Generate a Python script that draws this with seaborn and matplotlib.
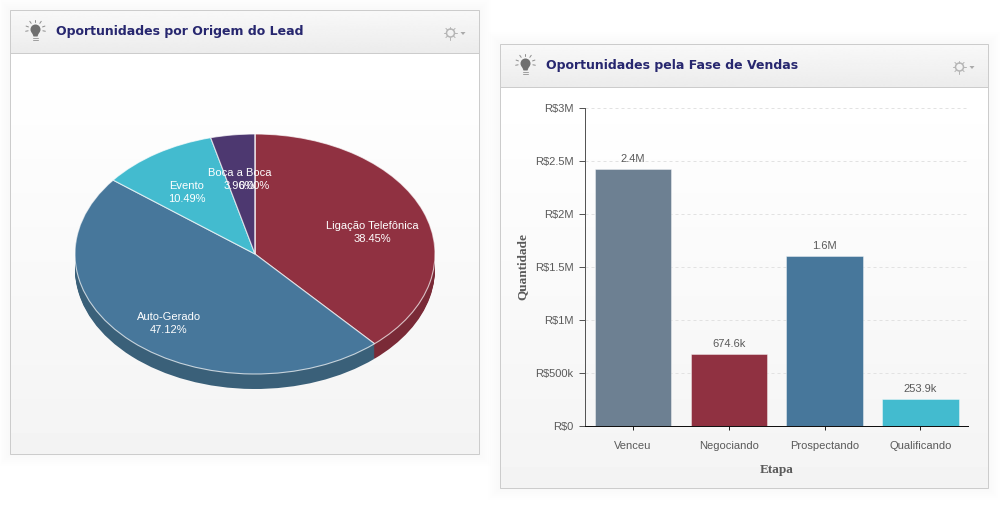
import numpy as np
import pandas as pd
import matplotlib
matplotlib.use("Agg")
import matplotlib.pyplot as plt
from matplotlib.patches import Rectangle, Circle, Polygon
import seaborn as sns

W, H = 1002, 505

# pie data
origens = ["Ligação Telefônica", "Auto-Gerado", "Evento", "Boca a Boca", ""]
origem_pct = [38.45, 47.12, 10.49, 3.96, 0.00]
origem_cores = ["#903141", "#47779b", "#43bbcf", "#4d3870", "#903141"]
origem_lados = ["#7a2a37", "#3a6079", "#35929f", "#3d2c59", "#7a2a37"]

# bar data
fases = ["Venceu", "Negociando", "Prospectando", "Qualificando"]
fase_valores = [2420000, 674600, 1600000, 253900]
fase_rotulos = ["2.4M", "674.6k", "1.6M", "253.9k"]
fase_cores = ["#6d8092", "#903141", "#47779b", "#43bbcf"]
y_ticks = [0, 500000, 1000000, 1500000, 2000000, 2500000, 3000000]
y_rotulos = ["R$0", "R$500k", "R$1M", "R$1.5M", "R$2M", "R$2.5M", "R$3M"]

sns.set_theme(style="white")
plt.rcParams["font.family"] = ["Liberation Sans", "DejaVu Sans"]
TXT = "#5a5a5a"
PX = 0.72


def px_axes(fig, left, top, right, bottom, **kw):
	return fig.add_axes([left / W, 1 - bottom / H, (right - left) / W, (bottom - top) / H], **kw)


def gradient(ax, x0, y0, x1, y1, top, bottom):
	g = np.linspace(top, bottom, 64).reshape(-1, 1)
	ax.imshow(g, extent=(x0, x1, y1, y0), cmap="gray", vmin=0, vmax=1, aspect="auto", zorder=2, interpolation="bilinear")


def lamp(ax, cx, cy):
	ax.add_patch(Circle((cx, cy - 1), 5, color="#707070", lw=0, zorder=5))
	ax.add_patch(Polygon([(cx - 3.5, cy + 2), (cx + 3.5, cy + 2), (cx + 2, cy + 6), (cx - 2, cy + 6)], color="#707070", lw=0, zorder=5))
	for dy in (7, 9):
		ax.plot([cx - 2.5, cx + 2.5], [cy + dy, cy + dy], color="#a0a0a0", lw=PX, zorder=5)
	for ang in (-70, -35, 0, 35, 70, -100, 100):
		a = np.radians(ang)
		ax.plot([cx + 7.5 * np.sin(a), cx + 10 * np.sin(a)], [cy - 1 - 7.5 * np.cos(a), cy - 1 - 10 * np.cos(a)], color="#909090", lw=PX, zorder=5)


def gear(ax, cx, cy):
	ax.add_patch(Circle((cx, cy), 4, fc="none", ec="#b5b5b5", lw=1.1, zorder=5))
	for ang in range(0, 360, 45):
		a = np.radians(ang)
		ax.plot([cx + 4 * np.sin(a), cx + 6.5 * np.sin(a)], [cy + 4 * np.cos(a), cy + 6.5 * np.cos(a)], color="#b5b5b5", lw=PX, zorder=5)
	ax.add_patch(Polygon([(cx + 10, cy - 1), (cx + 15, cy - 1), (cx + 12.5, cy + 2)], color="#aaaaaa", lw=0, zorder=5))


def panel(ax, x0, y0, x1, y1, head, titulo):
	# soft shadow
	for s in range(2, 13, 2):
		ax.add_patch(Rectangle((x0 - s, y0 - s), x1 - x0 + 2 * s, y1 - y0 + 2 * s, fc="black", ec="none", alpha=0.004, zorder=1))
	gradient(ax, x0, head, x1, y1, 1.0, 0.955)
	gradient(ax, x0, y0, x1, head, 0.975, 0.925)
	ax.add_patch(Rectangle((x0, y0), x1 - x0, y1 - y0, fc="none", ec="#cccccc", lw=PX, zorder=3))
	ax.plot([x0, x1], [head, head], color="#cccccc", lw=PX, zorder=3)
	lamp(ax, x0 + 25, y0 + 20.5)
	gear(ax, x1 - 29, y0 + 23)
	ax.text(x0 + 46, y0 + 22, titulo, color="#27276f", fontsize=9, fontweight="bold", family="DejaVu Sans", va="center", ha="left", zorder=5)


fig = plt.figure(figsize=(W / 100, H / 100), dpi=100, facecolor="white")

fundo = fig.add_axes([0, 0, 1, 1], zorder=0)
panel(fundo, 10.5, 10, 479.5, 454, 53, "Oportunidades por Origem do Lead")
panel(fundo, 500.5, 44, 988.5, 488, 87, "Oportunidades pela Fase de Vendas")
fundo.set_xlim(0, W)
fundo.set_ylim(H, 0)
fundo.axis("off")

# pie, ellipse centred at (255, 254), radii 180 x 120, 15 px deep
RX, RY, DEPTH = 180, 120, 15
pie_ax = px_axes(fig, 55, 114, 455, 414, zorder=1)
for d in range(DEPTH, 0, -1):
	pie_ax.pie(origem_pct, colors=origem_lados, startangle=90, counterclock=False, center=(0, -d / RY), radius=1, wedgeprops={"linewidth": 0})
pie_ax.pie(origem_pct, colors=origem_cores, startangle=90, counterclock=False, center=(0, 0), radius=1, wedgeprops={"linewidth": 0.8, "edgecolor": (1, 1, 1, 0.7)})
pie_ax.set_aspect("auto")
pie_ax.set_xlim(-200 / RX, 200 / RX)
pie_ax.set_ylim(-160 / RY, 140 / RY)
pie_ax.patch.set_alpha(0)

# slice labels sit over the pie, in pixel coordinates
texto = fig.add_axes([0, 0, 1, 1], zorder=3)
texto.set_xlim(0, W)
texto.set_ylim(H, 0)
texto.axis("off")
rotulo_pos = [(372, 226), (169, 317), (187, 186), (239.5, 173), (254.5, 173)]
for nome, pct, (x, y) in zip(origens, origem_pct, rotulo_pos):
	texto.text(x, y, nome, color="white", fontsize=8, ha="center", va="center")
	texto.text(x, y + 13, "{0:.2f}%".format(pct), color="white", fontsize=8, ha="center", va="center")

# bars
df = pd.DataFrame({"Etapa": fases, "Quantidade": fase_valores})
bar_ax = px_axes(fig, 585.2, 108, 968.2, 426, zorder=2)
bar_ax.patch.set_alpha(0)
sns.barplot(data=df, x="Etapa", y="Quantidade", hue="Etapa", palette=fase_cores, legend=False, width=0.8, saturation=1,
	edgecolor=(1, 1, 1, 0.4), linewidth=PX, ax=bar_ax, zorder=3)
for cont, rot in zip(bar_ax.containers, fase_rotulos):
	bar_ax.bar_label(cont, labels=[rot], padding=4, fontsize=8, color=TXT)
bar_ax.set_xlim(-0.5, 3.5)
bar_ax.set_ylim(0, 3000000)
bar_ax.set_yticks(y_ticks)
bar_ax.set_yticklabels(y_rotulos)
bar_ax.yaxis.grid(True, linestyle=(0, (3, 3)), color="#e2e2e2", linewidth=PX, zorder=0)
bar_ax.set_axisbelow(True)
bar_ax.tick_params(axis="y", length=4.3, width=PX, color="#555555", labelsize=8, labelcolor=TXT, pad=4.3, left=True)
bar_ax.tick_params(axis="x", length=3, width=PX, color="#222222", labelsize=8, labelcolor=TXT, pad=7.5, bottom=True)
for lado in ("top", "right"):
	bar_ax.spines[lado].set_visible(False)
bar_ax.spines["left"].set_color("#555555")
bar_ax.spines["left"].set_linewidth(PX)
bar_ax.spines["bottom"].set_color("#111111")
bar_ax.spines["bottom"].set_linewidth(PX)
bar_ax.set_xlabel("")
bar_ax.set_ylabel("")
texto.text(776.5, 470, "Etapa", fontsize=9.5, fontweight="bold", family="Liberation Serif", color=TXT, ha="center", va="center")
texto.text(523, 267, "Quantidade", fontsize=9.5, fontweight="bold", family="Liberation Serif", color=TXT, ha="center", va="center", rotation=90)

fig.savefig("out.png", dpi=100)
